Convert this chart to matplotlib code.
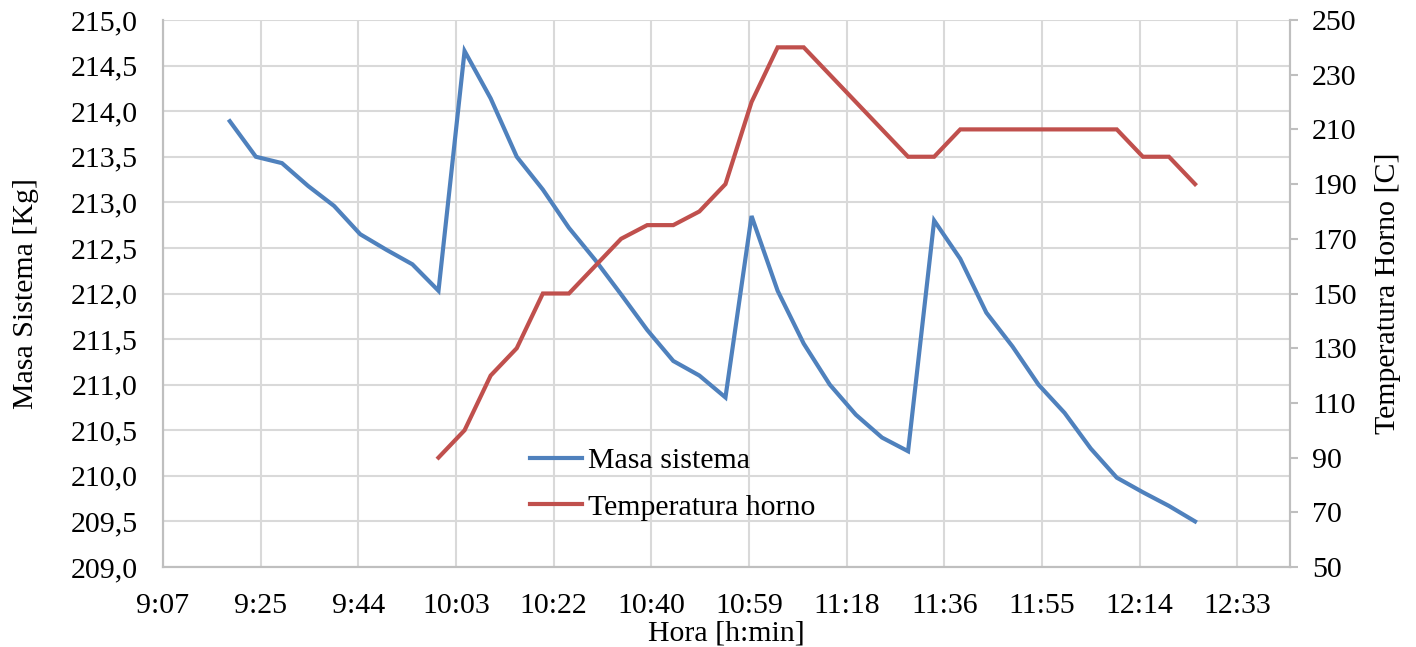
import numpy as np
import matplotlib.pyplot as plt
from matplotlib.ticker import FuncFormatter, MultipleLocator, FixedLocator

# data --------------------------------------------------

masa_horas = ["9:20", "9:25", "9:30", "9:35", "9:40", "9:45", "9:50", "9:55",
              "10:00", "10:05", "10:10", "10:15", "10:20", "10:25", "10:30", "10:35",
              "10:40", "10:45", "10:50", "10:55", "11:00", "11:05", "11:10", "11:15",
              "11:20", "11:25", "11:30", "11:35", "11:40", "11:45", "11:50", "11:55",
              "12:00", "12:05", "12:10", "12:15", "12:20", "12:25"]
masa_sistema = [213.89, 213.50, 213.43, 213.18, 212.96, 212.65, 212.48, 212.32,
                212.03, 214.66, 214.14, 213.50, 213.14, 212.72, 212.37, 211.99,
                211.60, 211.26, 211.10, 210.86, 212.85, 212.03, 211.45, 211.00,
                210.67, 210.42, 210.27, 212.80, 212.38, 211.79, 211.42, 211.00,
                210.69, 210.30, 209.98, 209.82, 209.67, 209.50]

temp_horas = ["10:00", "10:05", "10:10", "10:15", "10:20", "10:25", "10:30", "10:35",
              "10:40", "10:45", "10:50", "10:55", "11:00", "11:05", "11:10", "11:15",
              "11:20", "11:25", "11:30", "11:35", "11:40", "11:45", "11:50", "11:55",
              "12:00", "12:05", "12:10", "12:15", "12:20", "12:25"]
temp_horno = [90, 100, 120, 130, 150, 150, 160, 170, 175, 175, 180, 190, 220, 240,
              240, 230, 220, 210, 200, 200, 210, 210, 210, 210, 210, 210, 210, 200,
              200, 190]


def to_days(hhmm):
    h, m = hhmm.split(":")
    return (int(h) * 60 + int(m)) / 1440.0


def fmt_hora(v, pos):
    minutes = int(np.floor(v * 1440 + 1e-6))
    return "%d:%02d" % (minutes // 60, minutes % 60)


def fmt_coma(v, pos):
    return ("%.1f" % v).replace(".", ",")


plt.rcParams['font.family'] = ['Liberation Serif', 'DejaVu Serif']
plt.rcParams['font.size'] = 21.5

BLUE = "#4F81BD"
RED = "#C0504D"
GRID = "#D9D9D9"
SPINE = "#BFBFBF"

fig = plt.figure(figsize=(14.16, 6.47), dpi=100)
ax = fig.add_axes([163 / 1416, 1 - 567 / 647, 1127 / 1416, 547 / 647])
ax2 = ax.twinx()

x_masa = [to_days(t) for t in masa_horas]
x_temp = [to_days(t) for t in temp_horas]

l1, = ax.plot(x_masa, masa_sistema, color=BLUE, lw=3, solid_joinstyle='miter',
              label="Masa sistema")
l2, = ax2.plot(x_temp, temp_horno, color=RED, lw=3, solid_joinstyle='miter',
               label="Temperatura horno")

# axes -----------------------------------------------------
ax.set_xlim(0.38, 0.53)
ax.xaxis.set_major_locator(FixedLocator([0.38 + 0.013 * k for k in range(12)]))
ax.xaxis.set_major_formatter(FuncFormatter(fmt_hora))

ax.set_ylim(209, 215)
ax.yaxis.set_major_locator(MultipleLocator(0.5))
ax.yaxis.set_major_formatter(FuncFormatter(fmt_coma))

ax2.set_ylim(50, 250)
ax2.yaxis.set_major_locator(FixedLocator(list(range(50, 251, 20))))

ax.grid(True, color=GRID, lw=1.5)
ax.set_axisbelow(True)

for a in (ax, ax2):
    for s in a.spines.values():
        s.set_color(SPINE)
        s.set_linewidth(1.5)
    a.spines['top'].set_visible(False)

ax.tick_params(axis='y', length=0, pad=18)
ax.tick_params(axis='x', length=0, pad=19)
ax2.tick_params(axis='y', length=6, width=1.5, color=SPINE, pad=10)

ax.set_xlabel("Hora [h:min]", labelpad=1)
ax.set_ylabel("Masa Sistema [Kg]", labelpad=23)
ax2.set_ylabel("Temperatura Horno [C]", labelpad=13)

ax2.legend([l1, l2], ["Masa sistema", "Temperatura horno"], frameon=False,
           loc='center left', bbox_to_anchor=(0.3257, 0.152), borderaxespad=0,
           borderpad=0, handlelength=1.75, handletextpad=0.2, labelspacing=0.66)

fig.savefig("out.png", dpi=100)
